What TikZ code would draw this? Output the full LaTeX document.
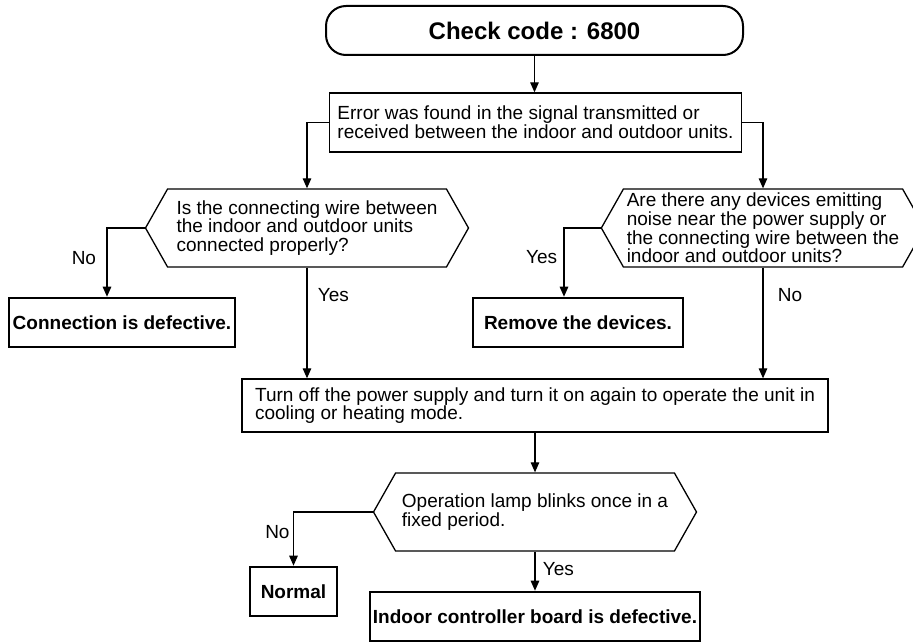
\documentclass[tikz,border=0pt]{standalone}
\usepackage{fontspec}
\setmainfont{Liberation Sans}
\usetikzlibrary{shapes.symbols,arrows.meta}

\begin{document}
\begin{tikzpicture}[x=1pt, y=-1pt,
    every node/.style={font=\fontsize{19}{18.7}\selectfont},
    terminal/.style={rectangle, rounded corners=20pt, draw, line width=2pt, minimum width=417pt, minimum height=49pt, font=\fontsize{24}{24}\selectfont\bfseries},
    proc/.style={rectangle, draw, line width=1.3pt, minimum height=59pt, align=left, inner xsep=8pt},
    result/.style={rectangle, draw, line width=2.6pt, minimum height=49pt, inner xsep=3pt, font=\fontsize{19}{18.7}\selectfont\bfseries},
    decision/.style={signal, signal to=west and east, signal pointer angle=121, draw, line width=1.3pt, minimum width=323pt, minimum height=78pt, align=left},
    arr/.style={-{Triangle[length=10pt, width=8.5pt]}, line width=1.2pt}]
    \useasboundingbox (0,0) rectangle (913,642);

    \node[terminal] (title) at (534.5, 30.5) {Check code : 6800};
    \node[proc, minimum width=411pt] (err) at (535.5, 122.5) {Error was found in the signal transmitted or\\received between the indoor and outdoor units.};
    \node[decision] (q1) at (307, 228) {Is the connecting wire between\\the indoor and outdoor units\\connected properly?};
    \node[decision] (q2) at (763, 228) {Are there any devices emitting\\noise near the power supply or\\the connecting wire between the\\indoor and outdoor units?};
    \node[result, minimum width=226pt] (bad) at (122, 322.5) {Connection is defective.};
    \node[result, minimum width=210pt] (rem) at (578, 322.5) {Remove the devices.};
    \node[proc, minimum width=586pt, minimum height=53pt] (op) at (535, 405.5) {Turn off the power supply and turn it on again to operate the unit in\\cooling or heating mode.};
    \node[decision] (q3) at (535, 512) {Operation lamp blinks once in a\\fixed period.};
    \node[result, minimum width=87pt] (normal) at (293.5, 591.5) {Normal};
    \node[result, minimum width=326pt] (board) at (535, 616.5) {Indoor controller board is defective.};

    \draw[arr] (title) -- (title |- err.north);
    \draw[arr] (err.west) -| (q1.north);
    \draw[arr] (err.east) -| (q2.north);
    \draw[arr] (q1.west) -| node[pos=0.72, left=7pt] {No} ([xshift=-15pt]bad.north);
    \draw[arr] (q1.south) -- node[pos=0.25, right=7pt] {Yes} (q1.south |- op.north);
    \draw[arr] (q2.west) -| node[pos=0.71, left=3pt] {Yes} ([xshift=-14pt]rem.north);
    \draw[arr] (q2.south) -- node[pos=0.25, right=11pt] {No} (q2.south |- op.north);
    \draw[arr] (op) -- (op |- q3.north);
    \draw[arr] (q3.west) -| node[pos=0.69, left=0pt] {No} (normal.north);
    \draw[arr] (q3.south) -- node[pos=0.44, right=4pt] {Yes} (board.north);

\end{tikzpicture}
\end{document}
